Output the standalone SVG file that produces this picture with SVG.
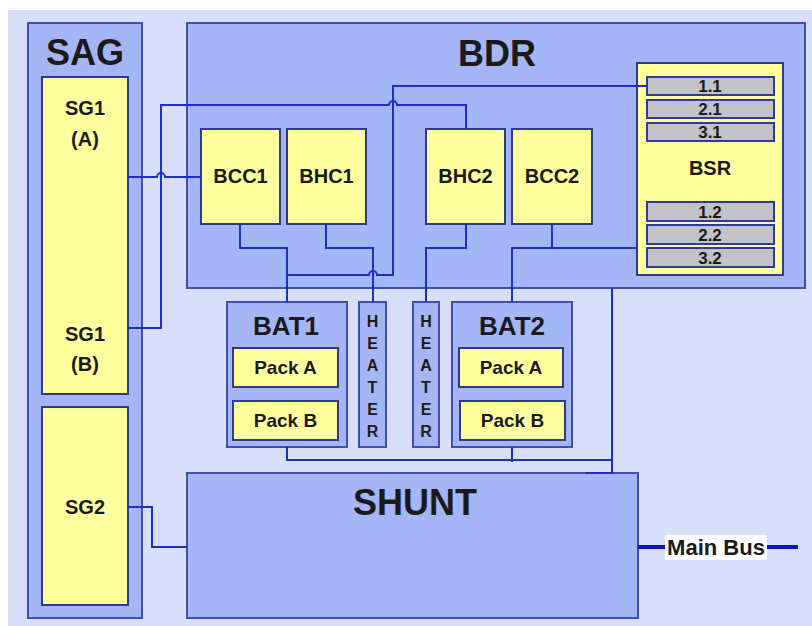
<svg xmlns="http://www.w3.org/2000/svg" width="812" height="626" viewBox="0 0 812 626">
<style>
.bg{fill:#d8dffa}
.blk{fill:#a4b6f6;stroke:#3f4db5;stroke-width:2}
.yel{fill:#ffff9e;stroke:#2e3a8c;stroke-width:2}
.bar{fill:#c2c2c8;stroke:#2e3a9c;stroke-width:2}
text{font-family:"Liberation Sans",Arial,sans-serif;font-weight:bold;fill:#1a1a1a;text-anchor:middle}
.big{font-size:36px}
.mid{font-size:20px}
.bat{font-size:26px}
.pk{font-size:19px}
.ht{font-size:16px}
.br{font-size:17px}
.mb{font-size:22px}
.ln{fill:none;stroke:#1f2fc4;stroke-width:2}
.bus{fill:none;stroke:#1010d0;stroke-width:4}
</style>
<rect class="bg" x="8" y="10" width="804" height="616"/>
<g id="SAG">
<rect class="blk" x="28" y="23" width="114" height="595"/>
<text class="big" x="85" y="65">SAG</text>
</g>
<g id="SG1">
<rect class="yel" x="42" y="77" width="86" height="317"/>
<text class="mid" x="85" y="115">SG1</text>
<text class="mid" x="85" y="146">(A)</text>
<text class="mid" x="85" y="341">SG1</text>
<text class="mid" x="85" y="371">(B)</text>
</g>
<g id="SG2">
<rect class="yel" x="42" y="407" width="86" height="198"/>
<text class="mid" x="85" y="514">SG2</text>
</g>
<g id="BDR">
<rect class="blk" x="187" y="23" width="618" height="265"/>
<text class="big" x="497" y="66">BDR</text>
</g>
<g id="BCC1">
<rect class="yel" x="201" y="129" width="79" height="95"/>
<text class="mid" x="240.5" y="183">BCC1</text>
</g>
<g id="BHC1">
<rect class="yel" x="287" y="129" width="79" height="95"/>
<text class="mid" x="326.5" y="183">BHC1</text>
</g>
<g id="BHC2">
<rect class="yel" x="426" y="129" width="79" height="95"/>
<text class="mid" x="465.5" y="183">BHC2</text>
</g>
<g id="BCC2">
<rect class="yel" x="512" y="129" width="80" height="95"/>
<text class="mid" x="552" y="183">BCC2</text>
</g>
<g id="BSR">
<rect class="yel" x="637" y="63" width="146" height="212"/>
<rect class="bar" x="647" y="77" width="127" height="18"/>
<rect class="bar" x="647" y="100" width="127" height="18"/>
<rect class="bar" x="647" y="123" width="127" height="18"/>
<rect class="bar" x="647" y="202" width="127" height="19"/>
<rect class="bar" x="647" y="225" width="127" height="19"/>
<rect class="bar" x="647" y="248" width="127" height="19"/>
<text class="br" x="710" y="92">1.1</text>
<text class="br" x="710" y="115">2.1</text>
<text class="br" x="710" y="138">3.1</text>
<text class="mid" x="710" y="175">BSR</text>
<text class="br" x="710" y="218">1.2</text>
<text class="br" x="710" y="241">2.2</text>
<text class="br" x="710" y="264">3.2</text>
</g>
<g id="BAT1">
<rect class="blk" x="227" y="302" width="120" height="145"/>
<text class="bat" x="286" y="335">BAT1</text>
<rect class="yel" x="233" y="348" width="105" height="39"/>
<text class="pk" x="285.5" y="374">Pack A</text>
<rect class="yel" x="233" y="401" width="105" height="39"/>
<text class="pk" x="285.5" y="427">Pack B</text>
</g>
<g id="HEATER1">
<rect class="blk" x="359" y="302" width="27" height="145"/>
<text class="ht" x="372.5" y="327">H</text>
<text class="ht" x="372.5" y="349">E</text>
<text class="ht" x="372.5" y="371">A</text>
<text class="ht" x="372.5" y="393">T</text>
<text class="ht" x="372.5" y="415">E</text>
<text class="ht" x="372.5" y="437">R</text>
</g>
<g id="HEATER2">
<rect class="blk" x="413" y="302" width="26" height="145"/>
<text class="ht" x="426" y="327">H</text>
<text class="ht" x="426" y="349">E</text>
<text class="ht" x="426" y="371">A</text>
<text class="ht" x="426" y="393">T</text>
<text class="ht" x="426" y="415">E</text>
<text class="ht" x="426" y="437">R</text>
</g>
<g id="BAT2">
<rect class="blk" x="452" y="302" width="120" height="145"/>
<text class="bat" x="512" y="335">BAT2</text>
<rect class="yel" x="459" y="348" width="104" height="39"/>
<text class="pk" x="511" y="374">Pack A</text>
<rect class="yel" x="460" y="401" width="105" height="39"/>
<text class="pk" x="512.5" y="427">Pack B</text>
</g>
<g id="SHUNT">
<rect class="blk" x="187" y="473" width="451" height="145"/>
<text class="big" x="415" y="515">SHUNT</text>
</g>
<g id="connectors">
<path class="ln" d="M128,177 H157 A4,4 0 0 1 165,177 H201"/>
<path class="ln" d="M128,328 H161 V105 H389 A4,4 0 0 1 397,105 H466 V129"/>
<path class="ln" d="M287,275 H369 A4,4 0 0 1 377,275 H393 V86 H647"/>
<path class="ln" d="M240,224 V248 H287 V302"/>
<path class="ln" d="M326,224 V248 H373 V302"/>
<path class="ln" d="M466,224 V248 H426 V302"/>
<path class="ln" d="M552,224 V248 H512 V302"/>
<path class="ln" d="M552,248 H637"/>
<path class="ln" d="M287,447 V460 H612"/>
<path class="ln" d="M512,447 V462"/>
<path class="ln" d="M612,288 V473 H585"/>
<path class="ln" d="M128,507 H152 V547 H187"/>
<path class="bus" d="M638,547 H665"/>
<path class="bus" d="M767,547 H798"/>
<g id="MainBus">
<rect x="665" y="535" width="102" height="25" fill="#ffffff"/>
<text class="mb" x="716" y="555">Main Bus</text>
</g>
</g>
</svg>
